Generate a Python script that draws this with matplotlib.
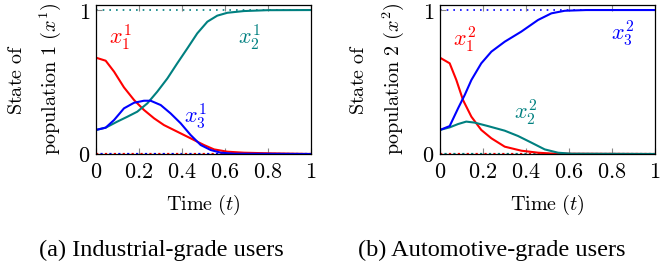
import matplotlib
matplotlib.use("Agg")
import matplotlib.pyplot as plt

plt.rcParams['mathtext.fontset'] = 'cm'
plt.rcParams['font.family'] = ['DejaVu Serif']

# Panel (a): Industrial-grade users
t1_x1 = [0, 0.045, 0.084, 0.130, 0.177, 0.223, 0.270, 0.316, 0.378, 0.440, 0.502, 0.549, 0.611, 0.688, 0.797, 1.0]
v1_x1 = [0.669, 0.648, 0.572, 0.463, 0.375, 0.306, 0.248, 0.201, 0.155, 0.109, 0.0625, 0.032, 0.016, 0.009, 0.005, 0.0]
t1_x2 = [0, 0.045, 0.099, 0.146, 0.192, 0.239, 0.285, 0.332, 0.378, 0.425, 0.471, 0.518, 0.564, 0.611, 0.688, 0.797, 1.0]
v1_x2 = [0.167, 0.183, 0.225, 0.259, 0.294, 0.352, 0.433, 0.525, 0.63, 0.734, 0.838, 0.919, 0.961, 0.981, 0.993, 0.999, 1.0]
t1_x3 = [0, 0.045, 0.084, 0.130, 0.177, 0.223, 0.254, 0.301, 0.347, 0.394, 0.440, 0.487, 0.533, 0.580, 0.642, 1.0]
v1_x3 = [0.167, 0.183, 0.236, 0.317, 0.356, 0.370, 0.370, 0.340, 0.282, 0.213, 0.132, 0.0625, 0.028, 0.009, 0.002, 0.0]

# Panel (b): Automotive-grade users
t2_x1 = [0, 0.045, 0.076, 0.107, 0.146, 0.192, 0.239, 0.301, 0.378, 0.456, 0.533, 1.0]
v2_x1 = [0.669, 0.630, 0.514, 0.375, 0.259, 0.167, 0.109, 0.051, 0.023, 0.009, 0.002, 0.0]
t2_x2 = [0, 0.045, 0.084, 0.122, 0.161, 0.223, 0.301, 0.363, 0.425, 0.487, 0.549, 0.611, 1.0]
v2_x2 = [0.167, 0.185, 0.208, 0.225, 0.218, 0.194, 0.162, 0.125, 0.079, 0.032, 0.009, 0.002, 0.0]
t2_x3 = [0, 0.045, 0.084, 0.115, 0.146, 0.192, 0.239, 0.301, 0.378, 0.456, 0.518, 0.580, 0.68, 1.0]
v2_x3 = [0.167, 0.194, 0.317, 0.410, 0.514, 0.630, 0.711, 0.780, 0.850, 0.931, 0.977, 0.995, 1.0, 1.0]

xticks = [0, 0.2, 0.4, 0.6, 0.8, 1]
xticklabels = ['0', '0.2', '0.4', '0.6', '0.8', '1']
yticks = [0, 1]
yticklabels = ['0', '1']

RED = '#ff0000'
TEAL = '#008080'
BLUE = '#0000ff'

fig = plt.figure(figsize=(6.6, 2.66), dpi=100)
W, H = 660, 266
LBL = 14.5
TCK = 16
MATH = 16

def make_ax(left_px):
    ax = fig.add_axes([left_px / W, (H - 154) / H, 215 / W, 149 / H])
    ax.set_xlim(0, 1)
    ax.set_ylim(0, 1.035)
    ax.set_xticks(xticks)
    ax.set_xticklabels([r'$%s$' % s for s in xticklabels], fontsize=TCK)
    ax.set_yticks(yticks)
    ax.set_yticklabels([r'$%s$' % s for s in yticklabels], fontsize=TCK)
    ax.tick_params(direction='in', top=True, right=False, length=4, width=0.8,
                   color='#888888')
    ax.tick_params(axis='x', pad=5)
    ax.tick_params(axis='y', pad=4)
    for s in ax.spines.values():
        s.set_linewidth(0.9)
    cx = left_px + 107.5
    fig.text(cx / W, 1 - 205 / H, r'$\mathrm{Time}\ (t)$', ha='center', va='center',
             fontsize=LBL)
    return ax

# Panel (a)
ax1 = make_ax(96)
ax1.plot([0, 1], [1, 1], ls=(0, (1, 3)), color=TEAL, lw=1.2, zorder=1)
ax1.plot([0, 1], [0, 0], ls=(0, (1, 3)), color=RED, lw=1.6, zorder=1)
ax1.plot([0, 1], [0, 0], ls=(2, (1, 3)), color=BLUE, lw=1.6, zorder=1)
ax1.plot(t1_x1, v1_x1, color=RED, lw=1.5)
ax1.plot(t1_x2, v1_x2, color=TEAL, lw=1.5)
ax1.plot(t1_x3, v1_x3, color=BLUE, lw=1.5)
ax1.text(0.112, 0.81, r'$x_1^1$', color=RED, fontsize=MATH, ha='center', va='center')
ax1.text(0.712, 0.815, r'$x_2^1$', color=TEAL, fontsize=MATH, ha='center', va='center')
ax1.text(0.464, 0.26, r'$x_3^1$', color=BLUE, fontsize=MATH, ha='center', va='center')
fig.text(16 / W, 1 - 79 / H, r'$\mathrm{State\ of}$', rotation=90, ha='center',
         va='center', fontsize=LBL)
fig.text(50 / W, 1 - 79 / H, r'$\mathrm{population\ 1}\ (x^1)$', rotation=90,
         ha='center', va='center', fontsize=LBL)

# Panel (b)
ax2 = make_ax(440)
ax2.plot([0, 1], [1, 1], ls=(0, (1, 3)), color=BLUE, lw=1.2, zorder=1)
ax2.plot([0, 1], [0, 0], ls=(0, (1, 3)), color=RED, lw=1.6, zorder=1)
ax2.plot([0, 1], [0, 0], ls=(2, (1, 3)), color=TEAL, lw=1.6, zorder=1)
ax2.plot(t2_x1, v2_x1, color=RED, lw=1.5)
ax2.plot(t2_x2, v2_x2, color=TEAL, lw=1.5)
ax2.plot(t2_x3, v2_x3, color=BLUE, lw=1.5)
ax2.text(0.112, 0.80, r'$x_1^2$', color=RED, fontsize=MATH, ha='center', va='center')
ax2.text(0.397, 0.294, r'$x_2^2$', color=TEAL, fontsize=MATH, ha='center', va='center')
ax2.text(0.851, 0.838, r'$x_3^2$', color=BLUE, fontsize=MATH, ha='center', va='center')
fig.text(358 / W, 1 - 79 / H, r'$\mathrm{State\ of}$', rotation=90, ha='center',
         va='center', fontsize=LBL)
fig.text(393 / W, 1 - 79 / H, r'$\mathrm{population\ 2}\ (x^2)$', rotation=90,
         ha='center', va='center', fontsize=LBL)

# Captions
fig.text(161 / W, 1 - 250 / H, '(a) Industrial-grade users', ha='center', va='center',
         fontsize=17.5, family='Liberation Serif')
fig.text(492 / W, 1 - 250 / H, '(b) Automotive-grade users', ha='center', va='center',
         fontsize=17.5, family='Liberation Serif')

fig.savefig('out.png', dpi=100)
